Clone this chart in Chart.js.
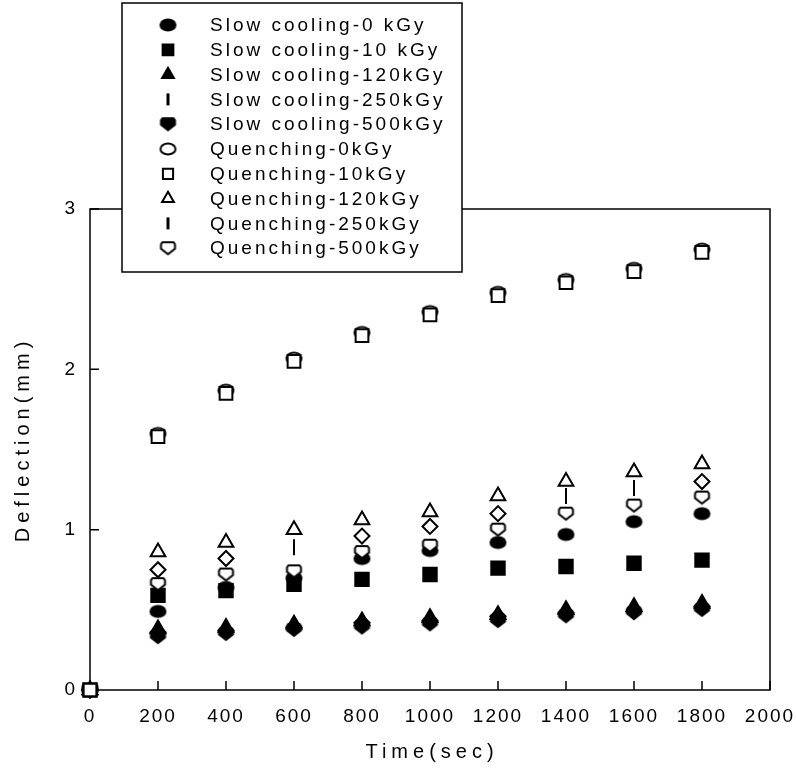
<!DOCTYPE html>
<html>
<head>
<meta charset="utf-8">
<title>Deflection vs time</title>
<script src="https://cdn.jsdelivr.net/npm/chart.js@4.4.0/dist/chart.umd.min.js"></script>
<style>
  body { margin: 0; background: #fff; }
  #wrap { width: 796px; height: 771px; }
</style>
</head>
<body>
<div id="wrap"><canvas id="chart" width="796" height="771"></canvas></div>
<script>
// data (deflection in mm)
const times = [0, 200, 400, 600, 800, 1000, 1200, 1400, 1600, 1800];
const slow0   = [0, 0.49, 0.64, 0.70, 0.82, 0.87, 0.92, 0.97, 1.05, 1.10];
const slow10  = [0, 0.59, 0.62, 0.66, 0.69, 0.72, 0.76, 0.77, 0.79, 0.81];
const slow120 = [0, 0.38, 0.39, 0.41, 0.43, 0.45, 0.47, 0.50, 0.52, 0.54];
const slow250 = [0, 0.36, 0.37, 0.39, 0.42, 0.43, 0.46, 0.48, 0.49, 0.52];
const slow500 = [0, 0.33, 0.35, 0.375, 0.39, 0.41, 0.43, 0.46, 0.48, 0.50];
const quench0   = [0, 1.60, 1.87, 2.07, 2.23, 2.36, 2.48, 2.56, 2.63, 2.75];
const quench10  = [0, 1.58, 1.85, 2.05, 2.21, 2.34, 2.46, 2.54, 2.61, 2.73];
const quench120 = [0, 0.86, 0.92, 1.00, 1.06, 1.11, 1.21, 1.30, 1.36, 1.41];
const quench250 = [0, 0.75, 0.82, 0.89, 0.96, 1.02, 1.10, 1.21, 1.26, 1.30];
const quench500 = [0, 0.66, 0.72, 0.74, 0.86, 0.90, 1.00, 1.10, 1.15, 1.20];

const seriesNames = [
  'Slow cooling-0 kGy', 'Slow cooling-10 kGy', 'Slow cooling-120kGy',
  'Slow cooling-250kGy', 'Slow cooling-500kGy', 'Quenching-0kGy',
  'Quenching-10kGy', 'Quenching-120kGy', 'Quenching-250kGy', 'Quenching-500kGy'
];

// little marker pictures for shapes chart.js has no style for
function makeMarker(kind, filled) {
  const w = 15, h = 12;
  const c = document.createElement('canvas');
  c.width = w + 4; c.height = h + 4;
  const g = c.getContext('2d');
  g.translate(2, 2);
  g.beginPath();
  if (kind === 'ellipse') {
    g.ellipse(w / 2, h / 2, w / 2, h / 2 - 0.5, 0, 0, Math.PI * 2);
  } else {
    // shield: flat top, straight sides, pointed bottom
    g.moveTo(2, 0); g.lineTo(w - 2, 0); g.lineTo(w - 0.5, 2);
    g.lineTo(w - 0.5, h * 0.55); g.lineTo(w / 2, h); g.lineTo(0.5, h * 0.55);
    g.lineTo(0.5, 2); g.closePath();
  }
  g.fillStyle = filled ? '#000' : '#fff';
  g.fill();
  g.lineWidth = 2;
  g.strokeStyle = '#000';
  g.stroke();
  return c;
}
const ellipseFill = makeMarker('ellipse', true);
const ellipseOpen = makeMarker('ellipse', false);
const shieldFill = makeMarker('shield', true);
const shieldOpen = makeMarker('shield', false);

// the 250 kGy quench marks show as a bar at a few times
const q250Style = ['rectRot', 'rectRot', 'rectRot', 'line', 'rectRot', 'rectRot', 'rectRot', 'line', 'line', 'rectRot'];
const q250Rot = q250Style.map(s => s === 'line' ? 90 : 0);
const q250Rad = q250Style.map(s => s === 'line' ? 8 : 7.5);

const styles = [
  { pointStyle: ellipseFill, radius: 7, fill: '#000', order: 2 },
  { pointStyle: 'rect', radius: 9.5, fill: '#000', order: 2 },
  { pointStyle: 'triangle', radius: 8.5, fill: '#000', order: 2 },
  { pointStyle: 'rectRot', radius: 7.5, fill: '#000', order: 2 },
  { pointStyle: shieldFill, radius: 7, fill: '#000', order: 2 },
  { pointStyle: ellipseOpen, radius: 7, fill: '#fff', order: 1 },
  { pointStyle: 'rect', radius: 9, fill: '#fff', order: 0 },
  { pointStyle: 'triangle', radius: 8.5, fill: '#fff', order: 1 },
  { pointStyle: q250Style, radius: q250Rad, rotation: q250Rot, fill: '#fff', order: 1 },
  { pointStyle: shieldOpen, radius: 7, fill: '#fff', order: 1 }
];
const allValues = [slow0, slow10, slow120, slow250, slow500, quench0, quench10, quench120, quench250, quench500];

const datasets = allValues.map((vals, i) => ({
  label: seriesNames[i],
  data: times.map((t, j) => ({ x: t, y: vals[j] })),
  showLine: false,
  pointStyle: styles[i].pointStyle,
  pointRadius: styles[i].radius,
  pointRotation: styles[i].rotation || 0,
  pointBackgroundColor: styles[i].fill,
  pointBorderColor: '#000',
  pointBorderWidth: 2,
  order: styles[i].order,
  clip: false
}));

const FONT = "'Liberation Sans', Arial, sans-serif";

const framePlugin = {
  id: 'frame',
  beforeDraw(chart) {
    chart.ctx.letterSpacing = '2px';
  },
  beforeDatasetsDraw(chart) {
    const { ctx, chartArea: a, scales } = chart;
    ctx.save();
    ctx.strokeStyle = '#000';
    ctx.lineWidth = 1.5;
    ctx.strokeRect(a.left, a.top, a.right - a.left, a.bottom - a.top);
    ctx.beginPath();
    scales.x.ticks.forEach((t, i) => {
      const px = scales.x.getPixelForTick(i);
      ctx.moveTo(px, a.bottom);
      ctx.lineTo(px, a.bottom - 9);
    });
    scales.y.ticks.forEach((t, i) => {
      const py = scales.y.getPixelForTick(i);
      ctx.moveTo(a.left, py);
      ctx.lineTo(a.left + 9, py);
    });
    ctx.stroke();
    ctx.restore();
  },
  afterDraw(chart) {
    const ctx = chart.ctx;
    const a = chart.chartArea;
    ctx.save();
    // axis titles
    ctx.fillStyle = '#000';
    ctx.font = '20px ' + FONT;
    ctx.letterSpacing = '5px';
    ctx.textAlign = 'center';
    ctx.textBaseline = 'middle';
    ctx.fillText('Time(sec)', (a.left + a.right) / 2 + 2, 752);
    ctx.save();
    ctx.translate(23, (a.top + a.bottom) / 2 - 10);
    ctx.rotate(-Math.PI / 2);
    ctx.fillText('Deflection(mm)', 0, 0);
    ctx.restore();

    // legend box
    const bx = 122, by = 3, bw = 340, bh = 269;
    ctx.fillStyle = '#fff';
    ctx.fillRect(bx, by, bw, bh);
    ctx.strokeStyle = '#000';
    ctx.lineWidth = 1.5;
    ctx.strokeRect(bx, by, bw, bh);
    ctx.font = '19px ' + FONT;
    ctx.letterSpacing = '3px';
    ctx.textAlign = 'left';
    seriesNames.forEach((name, i) => {
      const y = 25 + i * 24.8;
      const st = styles[i];
      ctx.fillStyle = st.fill;
      ctx.strokeStyle = '#000';
      if (name.indexOf('250') >= 0) {
        ctx.lineWidth = 3;
        ctx.beginPath();
        ctx.moveTo(168, y - 6);
        ctx.lineTo(168, y + 6);
        ctx.stroke();
      } else {
        ctx.lineWidth = 2;
        Chart.helpers.drawPoint(ctx, {
          pointStyle: st.pointStyle,
          radius: st.radius * 0.8,
          rotation: 0,
          borderWidth: 2
        }, 168, y);
      }
      ctx.fillStyle = '#000';
      ctx.fillText(name, 210, y + 1);
    });
    ctx.restore();
  }
};

new Chart(document.getElementById('chart'), {
  type: 'scatter',
  data: { datasets: datasets },
  options: {
    responsive: false,
    animation: false,
    layout: { padding: { top: 209, right: 26, left: 0, bottom: 0 } },
    plugins: {
      legend: { display: false },
      tooltip: { enabled: false }
    },
    scales: {
      x: {
        type: 'linear',
        min: 0,
        max: 2000,
        afterFit(s) { s.height = 81; s.paddingLeft = 0; s.paddingRight = 0; },
        grid: { display: false, drawTicks: false },
        border: { display: false },
        ticks: {
          stepSize: 200,
          padding: 15,
          color: '#000',
          font: { family: FONT, size: 19 },
          callback: v => String(v)
        }
      },
      y: {
        type: 'linear',
        min: 0,
        max: 3,
        afterFit(s) { s.width = 90; s.paddingTop = 0; s.paddingBottom = 0; },
        grid: { display: false, drawTicks: false },
        border: { display: false },
        ticks: {
          stepSize: 1,
          padding: 13,
          color: '#000',
          font: { family: FONT, size: 19 }
        }
      }
    }
  },
  plugins: [framePlugin]
});
</script>
</body>
</html>
